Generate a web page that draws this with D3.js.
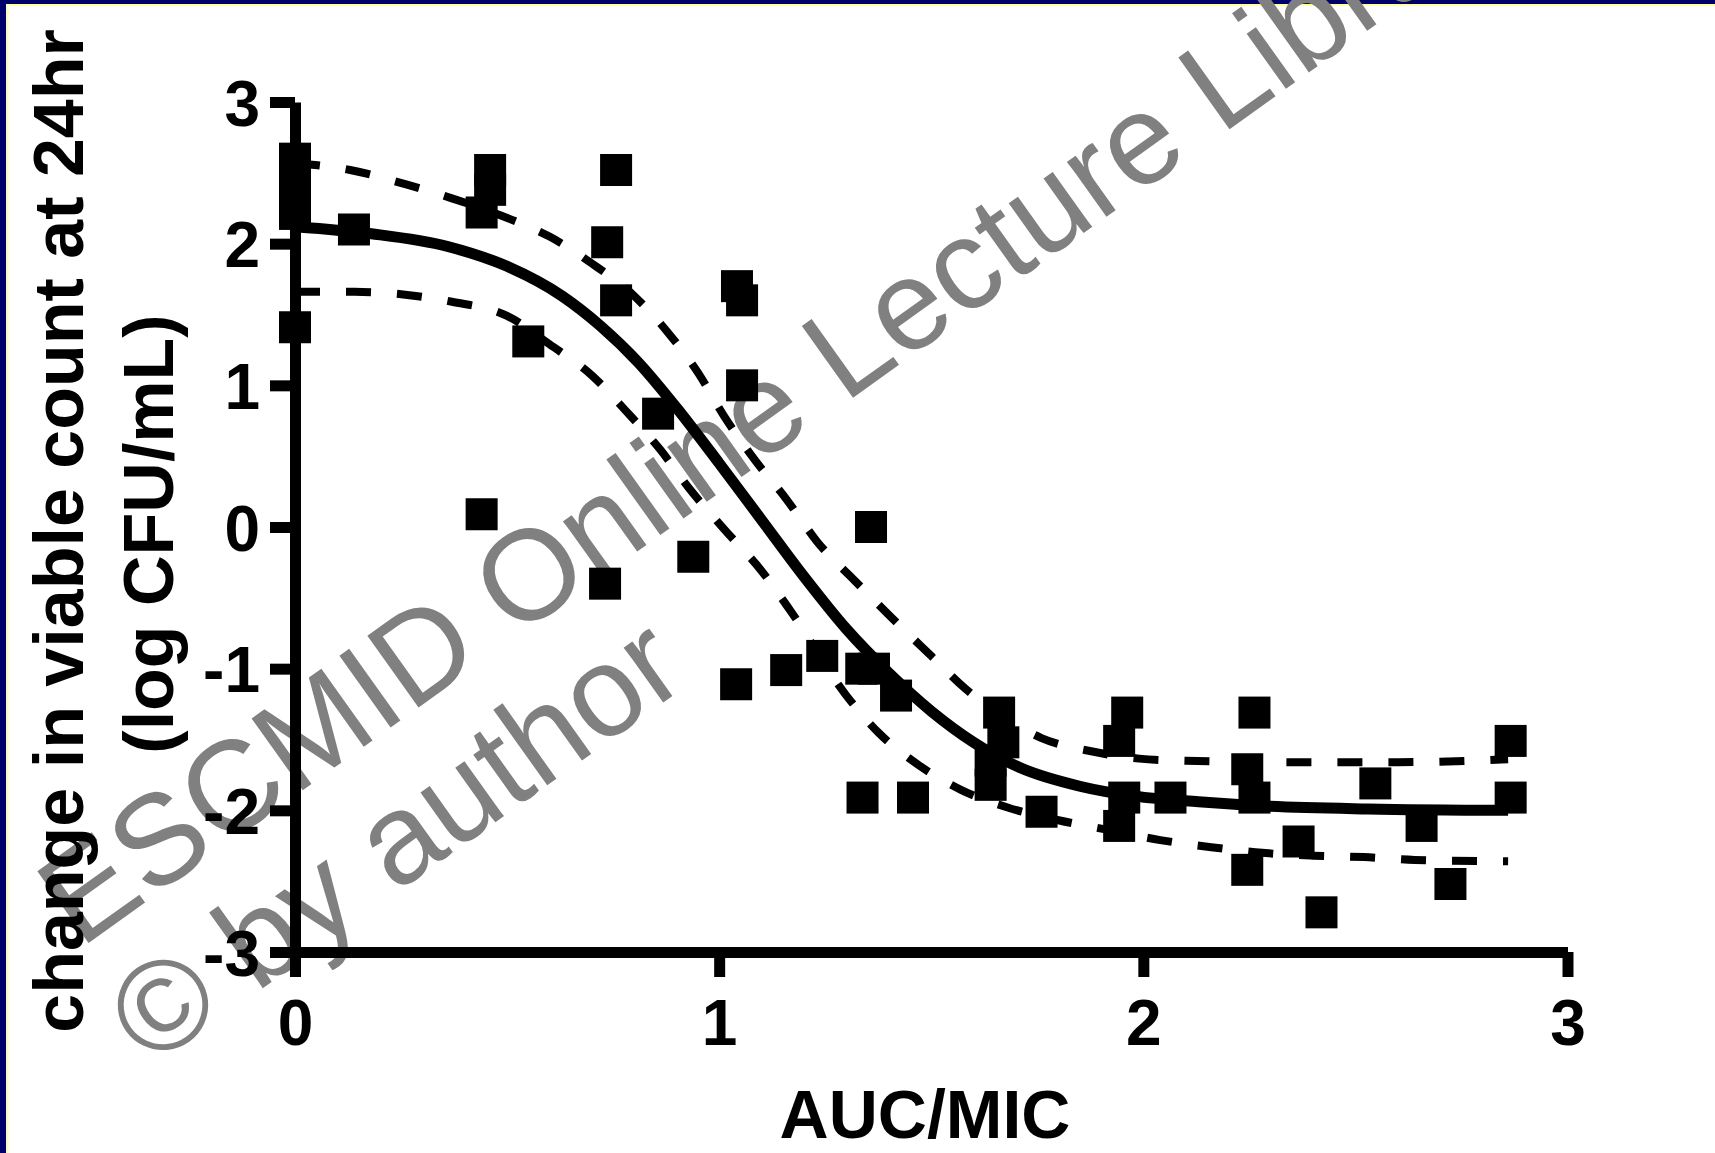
<!DOCTYPE html>
<html lang="en">
<head>
    <meta charset="UTF-8">
    <title>Change in viable count vs AUC/MIC</title>
    <script src="https://d3js.org/d3.v7.min.js"></script>
    <style>
        body { margin: 0; background: #fff; }
        svg { display: block; }
    </style>
</head>
<body>
    <svg id="chart" width="1715" height="1153"></svg>

    <script>
        // tick values
        var xTicks = [0, 1, 2, 3];
        var yTicks = [3, 2, 1, 0, -1, -2, -3];

        // observed points (AUC/MIC, change in log CFU/mL)
        var pointX = [0, 0, 0, 0, 0, 0.139, 0.46, 0.46, 0.44, 0.55, 0.44,
                      0.757, 0.736, 0.757, 0.731, 0.856, 0.939, 1.042, 1.054, 1.054,
                      1.04, 1.158, 1.243, 1.358, 1.335, 1.365, 1.417, 1.338, 1.457,
                      1.66, 1.67, 1.64, 1.64, 1.76, 1.962, 1.943, 1.955, 1.943, 2.064,
                      2.262, 2.245, 2.262, 2.245, 2.366, 2.42, 2.547, 2.656, 2.724,
                      2.866, 2.866];
        var pointY = [2.60, 2.47, 2.33, 2.21, 1.41, 2.10, 2.52, 2.38, 2.22, 1.31, 0.09,
                      2.52, 2.01, 1.60, -0.40, 0.80, -0.21, 1.70, 1.60, 1.00,
                      -1.11, -1.01, -0.91, 0.00, -1.00, -1.00, -1.19, -1.91, -1.91,
                      -1.31, -1.52, -1.65, -1.82, -2.01, -1.31, -1.51, -1.91, -2.11, -1.91,
                      -1.31, -1.71, -1.91, -2.42, -2.22, -2.72, -1.81, -2.11, -2.52,
                      -1.51, -1.91];

        // fitted curve
        var fitX = [0, 0.18, 0.36, 0.5, 0.63, 0.72, 0.81, 0.9, 1.0, 1.1, 1.2, 1.3,
                    1.4, 1.5, 1.6, 1.71, 1.85, 1.98, 2.13, 2.29, 2.53, 2.86];
        var fitY = [2.12, 2.07, 1.98, 1.84, 1.63, 1.42, 1.16, 0.84, 0.45, 0.05, -0.35, -0.72,
                    -1.03, -1.30, -1.52, -1.70, -1.83, -1.90, -1.94, -1.97, -1.99, -2.0];

        // 95% bands
        var upperX = [0, 0.13, 0.26, 0.37, 0.51, 0.6, 0.7, 0.8, 0.88, 0.95, 1.01, 1.08, 1.16,
                      1.23, 1.32, 1.41, 1.5, 1.58, 1.67, 1.76, 1.88, 1.99, 2.1, 2.36, 2.6, 2.86];
        var upperY = [2.57, 2.52, 2.42, 2.32, 2.17, 2.05, 1.86, 1.63, 1.37, 1.09, 0.79, 0.49, 0.19,
                      -0.10, -0.38, -0.65, -0.91, -1.14, -1.34, -1.49, -1.585, -1.635, -1.65, -1.66, -1.66, -1.64];
        var lowerX = [0, 0.14, 0.26, 0.37, 0.5, 0.6, 0.7, 0.78, 0.86, 0.93, 1.01, 1.1, 1.17,
                      1.3, 1.375, 1.47, 1.57, 1.68, 1.8, 1.92, 2.04, 2.16, 2.28, 2.4, 2.52, 2.64, 2.86];
        var lowerY = [1.66, 1.66, 1.64, 1.59, 1.49, 1.29, 1.07, 0.82, 0.55, 0.27, -0.01, -0.31, -0.60,
                      -1.19, -1.45, -1.68, -1.855, -1.98, -2.07, -2.14, -2.21, -2.26, -2.30, -2.32, -2.33, -2.35, -2.36];

        var font = "'Liberation Sans', Arial, sans-serif";
        var svg = d3.select("#chart");

        // slide frame
        svg.append("rect").attr("x", 0).attr("y", 0).attr("width", 1715).attr("height", 1153).attr("fill", "#ffffff");
        svg.append("rect").attr("x", 0).attr("y", 0).attr("width", 1715).attr("height", 4).attr("fill", "#00006b");
        svg.append("rect").attr("x", 0).attr("y", 0).attr("width", 6).attr("height", 1153).attr("fill", "#00006b");
        svg.append("rect").attr("x", 6).attr("y", 4).attr("width", 1709).attr("height", 1.5).attr("fill", "#ffff99");
        svg.append("rect").attr("x", 6).attr("y", 4).attr("width", 1.5).attr("height", 1149).attr("fill", "#ffff99");

        // watermark (under the chart)
        var wm = svg.append("g")
            .attr("transform", "translate(80,949) rotate(-35.5)")
            .style("font-family", font)
            .style("font-size", "128px")
            .attr("fill", "#808080");
        wm.append("text").attr("x", 0).attr("y", 0).text("ESCMID Online Lecture Library");
        wm.append("text").attr("x", -12).attr("y", 138).text("\u00a9 by author");

        // scales
        var x = d3.scaleLinear().domain([0, 3]).range([295, 1567.5]);
        var y = d3.scaleLinear().domain([-3, 3]).range([952, 102]);

        // axes
        var xAxis = svg.append("g")
            .attr("transform", "translate(0,952)")
            .call(d3.axisBottom(x).tickValues(xTicks).tickSize(25).tickSizeOuter(0)
                  .tickFormat(function(d) { return String(d); }));
        var yAxis = svg.append("g")
            .attr("transform", "translate(295,0)")
            .call(d3.axisLeft(y).tickValues(yTicks).tickSize(25).tickSizeOuter(0)
                  .tickFormat(function(d) { return String(d); }));

        [xAxis, yAxis].forEach(function(ax) {
            ax.select(".domain").attr("stroke", "#000").attr("stroke-width", 11);
            ax.selectAll(".tick line").attr("stroke", "#000").attr("stroke-width", 11);
            ax.selectAll(".tick text")
              .attr("fill", "#000")
              .style("font-family", font)
              .style("font-weight", "bold")
              .style("font-size", "64px");
        });
        xAxis.selectAll(".tick text").attr("y", 93).attr("dy", null);
        yAxis.selectAll(".tick text").attr("x", -35).attr("dy", "0.36em");

        // curves
        var line = d3.line().curve(d3.curveMonotoneX)
            .x(function(d) { return x(d[0]); })
            .y(function(d) { return y(d[1]); });

        svg.append("path")
            .datum(d3.zip(upperX, upperY))
            .attr("d", line)
            .attr("fill", "none").attr("stroke", "#000")
            .attr("stroke-width", 8).attr("stroke-dasharray", "25,26");
        svg.append("path")
            .datum(d3.zip(lowerX, lowerY))
            .attr("d", line)
            .attr("fill", "none").attr("stroke", "#000")
            .attr("stroke-width", 8).attr("stroke-dasharray", "25,26");
        svg.append("path")
            .datum(d3.zip(fitX, fitY))
            .attr("d", line)
            .attr("fill", "none").attr("stroke", "#000")
            .attr("stroke-width", 11);

        // points
        var size = 32;
        svg.selectAll("rect.pt")
            .data(d3.zip(pointX, pointY))
            .enter().append("rect")
            .attr("class", "pt")
            .attr("x", function(d) { return x(d[0]) - size / 2; })
            .attr("y", function(d) { return y(d[1]) - size / 2; })
            .attr("width", size)
            .attr("height", size)
            .attr("fill", "#000");

        // axis titles
        svg.append("text")
            .attr("x", 925).attr("y", 1138)
            .attr("text-anchor", "middle")
            .style("font-family", font).style("font-weight", "bold").style("font-size", "68px")
            .text("AUC/MIC");

        var yTitle = svg.append("g")
            .attr("transform", "translate(0,531) rotate(-90)")
            .style("font-family", font).style("font-weight", "bold").style("font-size", "70px")
            .attr("text-anchor", "middle");
        yTitle.append("text").attr("x", 0).attr("y", 83).text("change in viable count at 24hr");
        yTitle.append("text").attr("x", -3).attr("y", 173).text("(log CFU/mL)");
    </script>
</body>
</html>
